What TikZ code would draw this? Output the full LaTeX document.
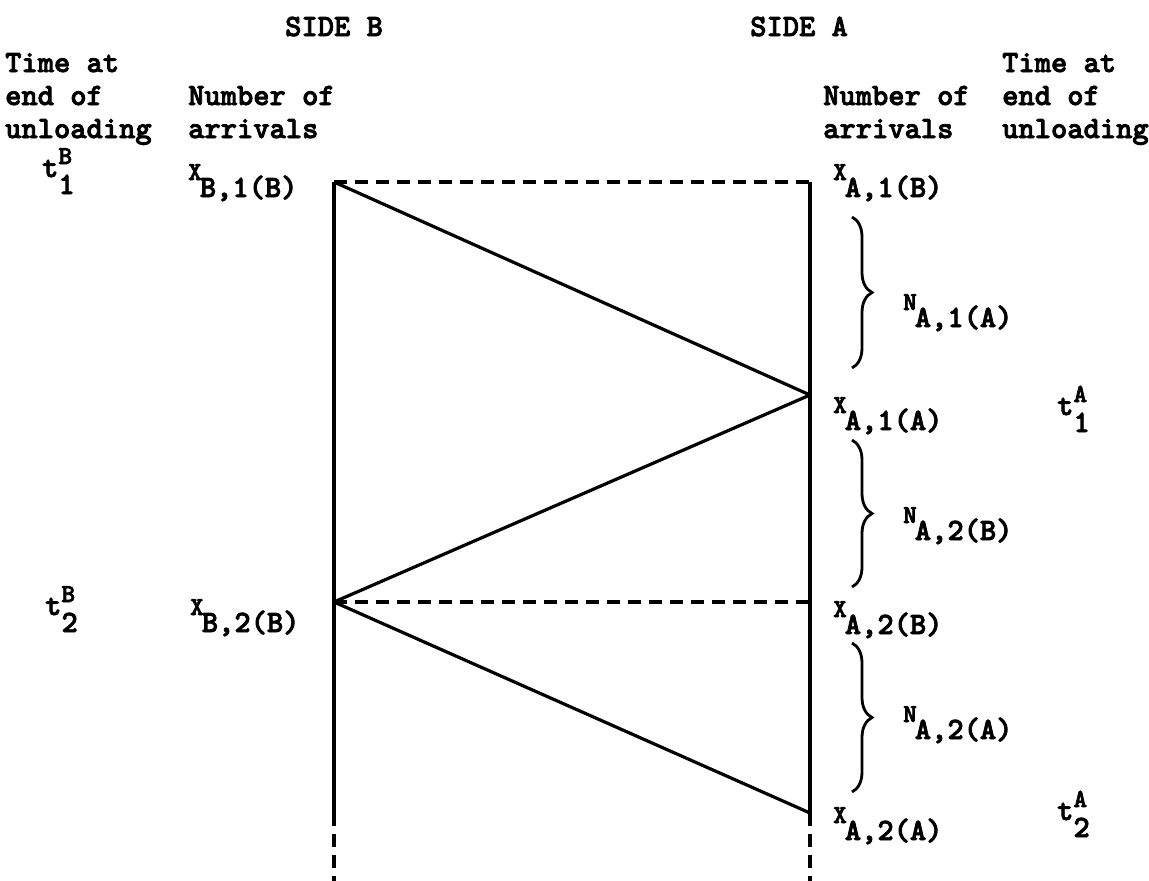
\documentclass[tikz,border=0pt]{standalone}
\usepackage{fontspec}
\newfontfamily\tw[FakeBold=2.6]{lmmonolt10-bold.otf}
\usetikzlibrary{decorations.pathreplacing}
\newcommand\bigf{\tw\fontsize{31}{33}\selectfont}
\newcommand\smf{\tw\fontsize{26}{28}\selectfont}
\newcommand\Xlab[2]{\raisebox{17pt}{\smf #1}\hspace{-2pt}#2}
\newcommand\Tlab[2]{t\rlap{\raisebox{13pt}{\smf #1}}\raisebox{-17pt}{#2}}
\begin{document}
\begin{tikzpicture}[x=1pt,y=-1pt,
  txt/.style={anchor=base west,inner sep=0pt,font=\bigf},
  ln/.style={line width=3.2pt},
  dsh/.style={line width=3.2pt,dash pattern=on 13pt off 8pt},
  brc/.style={line width=2.8pt,decorate,decoration={brace,amplitude=20pt}}]
\useasboundingbox (0,0) rectangle (1149,881);
% headings
\node[txt] (sb) at (285,36) {SIDE B};
\node[txt] (sa) at (750,36) {SIDE A};
\node[txt] (l1) at (5,72) {Time at};
\node[txt] (l2) at (5,105) {end of};
\node[txt] (l3) at (5,138) {unloading};
\node[txt] (n1) at (188,105) {Number of};
\node[txt] (n2) at (188,138) {arrivals};
\node[txt] (m1) at (823,105) {Number of};
\node[txt] (m2) at (823,138) {arrivals};
\node[txt] (r1) at (1002,72) {Time at};
\node[txt] (r2) at (1002,105) {end of};
\node[txt] (r3) at (1002,138) {unloading};
% coordinates
\coordinate (B1) at (334,182);
\coordinate (A1B) at (810,182);
\coordinate (A1) at (810,395);
\coordinate (B2) at (334,602);
\coordinate (A2B) at (810,602);
\coordinate (A2) at (810,813);
\coordinate (Bend) at (334,813);
\coordinate (Bbot) at (334,881);
\coordinate (Abot) at (810,881);
% lines
\draw[ln] (B1) -- (Bend);
\draw[ln] (A1B) -- (A2);
\draw[dsh] (B1) -- (A1B);
\draw[dsh] (B2) -- (A2B);
\draw[ln,line join=round] (B1) -- (A1) -- (B2) -- (A2);
\draw[dsh] (Bend) -- (Bbot);
\draw[dsh] (A2) -- (Abot);
% labels
\node[txt] (tb1) at (42,177) {\Tlab{B}{1}};
\node[txt] (xb1) at (188,197) {\Xlab{X}{B,1(B)}};
\node[txt] (xa1b) at (833,197) {\Xlab{X}{A,1(B)}};
\node[txt] (xa1a) at (833,430) {\Xlab{X}{A,1(A)}};
\node[txt] (ta1) at (1057,415) {\Tlab{A}{1}};
\node[txt] (tb2) at (45,615) {\Tlab{B}{2}};
\node[txt] (xb2) at (190,632) {\Xlab{X}{B,2(B)}};
\node[txt] (xa2b) at (833,634) {\Xlab{X}{A,2(B)}};
\node[txt] (xa2a) at (833,840) {\Xlab{X}{A,2(A)}};
\node[txt] (ta2) at (1057,820) {\Tlab{A}{2}};
% braces
\coordinate (b1t) at (852,217); \coordinate (b1b) at (852,368);
\coordinate (b2t) at (852,440); \coordinate (b2b) at (852,587);
\coordinate (b3t) at (852,643); \coordinate (b3b) at (852,792);
\draw[brc] (b1t) -- (b1b);
\draw[brc] (b2t) -- (b2b);
\draw[brc] (b3t) -- (b3b);
\node[txt] (na1a) at (903,327) {\Xlab{N}{A,1(A)}};
\node[txt] (na2b) at (903,540) {\Xlab{N}{A,2(B)}};
\node[txt] (na2a) at (903,739) {\Xlab{N}{A,2(A)}};
\end{tikzpicture}
\end{document}
